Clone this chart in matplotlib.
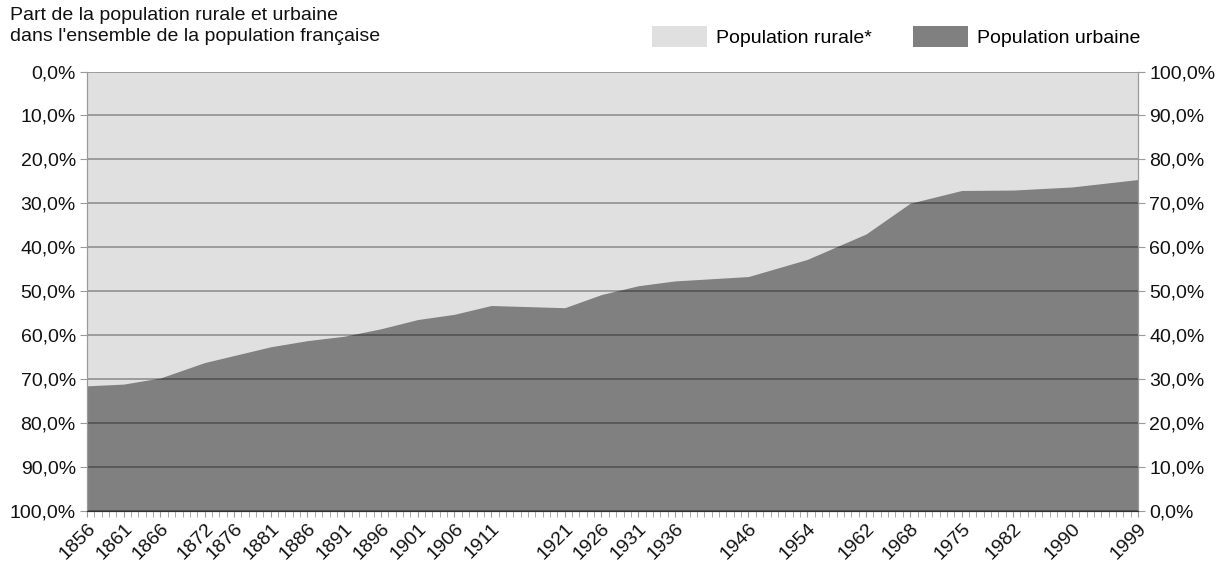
import matplotlib
matplotlib.use("Agg")
import matplotlib.pyplot as plt
from matplotlib.patches import Patch
from matplotlib.ticker import MultipleLocator

plt.rcParams['font.family'] = ['Liberation Sans', 'DejaVu Sans']

# census years and urban share of the population (%)
years = [1856, 1861, 1866, 1872, 1876, 1881, 1886, 1891, 1896, 1901, 1906, 1911,
         1921, 1926, 1931, 1936, 1946, 1954, 1962, 1968, 1975, 1982, 1990, 1999]
urban = [28.4, 28.8, 30.2, 33.7, 35.3, 37.3, 38.7, 39.7, 41.4, 43.5, 44.7, 46.7,
         46.2, 49.2, 51.2, 52.3, 53.3, 57.2, 63.0, 70.0, 72.9, 73.0, 73.7, 75.4]
pct_ticks = list(range(0, 101, 10))

title = "Part de la population rurale et urbaine\ndans l'ensemble de la population française"
labels = ["Population rurale*", "Population urbaine"]
rural_col = '#e0e0e0'
urban_col = '#808080'
fs = 14

fig = plt.figure(figsize=(12.2, 5.61), dpi=100)
ax = fig.add_axes([0.0713, 0.09, 0.8615, 0.7825])
ax.set_facecolor(rural_col)
ax.fill_between(years, urban, 100, color=rural_col, lw=0)
ax.fill_between(years, 0, urban, color=urban_col, lw=0)
ax.set_xlim(years[0], years[-1])
ax.set_ylim(0, 100)

# horizontal grid on top of the areas
ax.set_axisbelow(False)
ax.yaxis.grid(True, color='black', alpha=0.33, lw=1.3)

fmt = lambda v: f"{v:.1f}%".replace('.', ',')
ax.set_yticks(pct_ticks)
ax.set_yticklabels([fmt(100 - v) for v in pct_ticks])
ax2 = ax.twinx()
ax2.set_ylim(0, 100)
ax2.set_yticks(pct_ticks)
ax2.set_yticklabels([fmt(v) for v in pct_ticks])

ax.set_xticks(years)
ax.set_xticklabels([str(y) for y in years], rotation=45, ha='right',
                   rotation_mode='anchor')
ax.xaxis.set_minor_locator(MultipleLocator(1))

for a in (ax, ax2):
    for s in a.spines.values():
        s.set_color('#9a9a9a')
    a.spines['top'].set_visible(False)
    a.spines['bottom'].set_color('#303030')
    a.tick_params(axis='y', length=5, color='#9a9a9a', labelsize=fs,
                  labelcolor='#111111', pad=3)
ax.tick_params(axis='x', which='major', length=4, color='#9a9a9a', labelsize=fs,
               labelcolor='#111111', pad=3)
ax.tick_params(axis='x', which='minor', length=4, color='#9a9a9a')

fig.text(0.008, 0.988, title, ha='left', va='top', fontsize=fs,
         color='#111111', linespacing=1.3)

handles = [Patch(facecolor=rural_col, edgecolor='none'),
           Patch(facecolor=urban_col, edgecolor='none')]
fig.legend(handles, labels, loc='center right', bbox_to_anchor=(0.935, 0.935),
           ncol=2, frameon=False, fontsize=fs, handlelength=2.8,
           handleheight=1.35, handletextpad=0.5, columnspacing=2.1,
           borderpad=0, borderaxespad=0)

fig.savefig('out.png', dpi=100)
